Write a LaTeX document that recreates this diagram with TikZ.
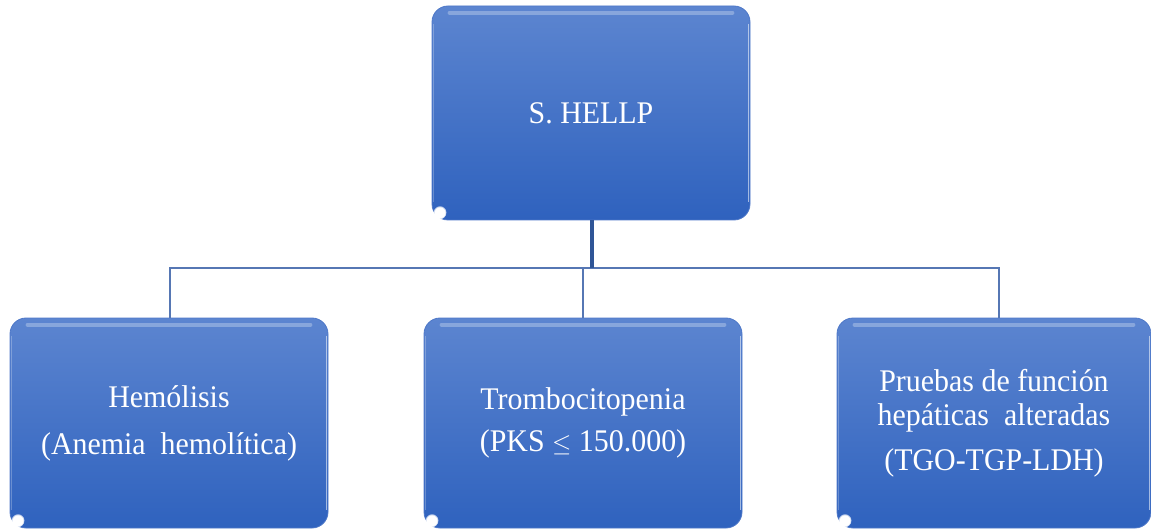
\documentclass[tikz,border=0pt]{standalone}
\usepackage{fontspec}
\setmainfont{Liberation Serif}[FakeStretch=0.95]
\usetikzlibrary{fadings}
\definecolor{boxtop}{HTML}{5C85D0}
\definecolor{boxbot}{HTML}{2F62BE}
\definecolor{boxedge}{HTML}{4E78C8}
\definecolor{stemdark}{HTML}{2F5597}
\definecolor{linecol}{HTML}{5677B4}
\tikzset{
  hbox/.style={rounded corners=16pt, top color=boxtop, bottom color=boxbot,
    draw=boxedge, line width=0.8pt, text=white, align=center,
    inner sep=0pt, font=\fontsize{31.5}{34}\selectfont},
  conn/.style={draw=linecol, line width=2.6pt},
  stem/.style={draw=stemdark, line width=4pt}
}
\begin{document}
\begin{tikzpicture}[x=1pt,y=-1pt]
\useasboundingbox (0,0) rectangle (1151,529);
\node[hbox, minimum width=318pt, minimum height=214pt] (top) at (591,113) {S. HELLP};
\node[hbox, minimum width=318pt, minimum height=210pt] (hem) at (169,423)
  {Hemólisis\\[13pt](Anemia\ \ hemolítica)};
\node[hbox, minimum width=318pt, minimum height=210pt] (tro) at (583,423)
  {Trombocitopenia\\[8pt](PKS $\leq$ 150.000)};
\node[hbox, minimum width=314pt, minimum height=210pt] (pru) at (994,423)
  {Pruebas\ de función\\hepáticas\ \ alteradas\\[11pt](TGO-TGP-LDH)};
\foreach \n in {top,hem,tro,pru}{
  \draw[white, opacity=0.28, line width=4pt, line cap=round]
    ([xshift=18pt,yshift=-7pt]\n.north west) -- ([xshift=-18pt,yshift=-7pt]\n.north east);
  \draw[white, opacity=0.55, line width=1.4pt]
    ([xshift=-2pt,yshift=-18pt]\n.north east) -- ([xshift=-2pt,yshift=18pt]\n.south east);
  \draw[white, opacity=0.25, line width=1.4pt]
    ([xshift=2pt,yshift=-18pt]\n.north west) -- ([xshift=2pt,yshift=18pt]\n.south west);
  \fill[white, path fading=circle with fuzzy edge 20 percent]
    ([xshift=8pt,yshift=8pt]\n.south west) circle (7pt);
}
\coordinate (bus) at (0,268);
\draw[conn] ([xshift=1pt]hem.north) -- ([xshift=1pt]hem.north |- bus)
  -- ([xshift=5pt]pru.north |- bus) -- ([xshift=5pt]pru.north);
\draw[conn] (tro.north) -- (tro.north |- bus);
\draw[stem] ([xshift=1pt]top.south) -- ([xshift=1pt]top.south |- bus);
\end{tikzpicture}
\end{document}
